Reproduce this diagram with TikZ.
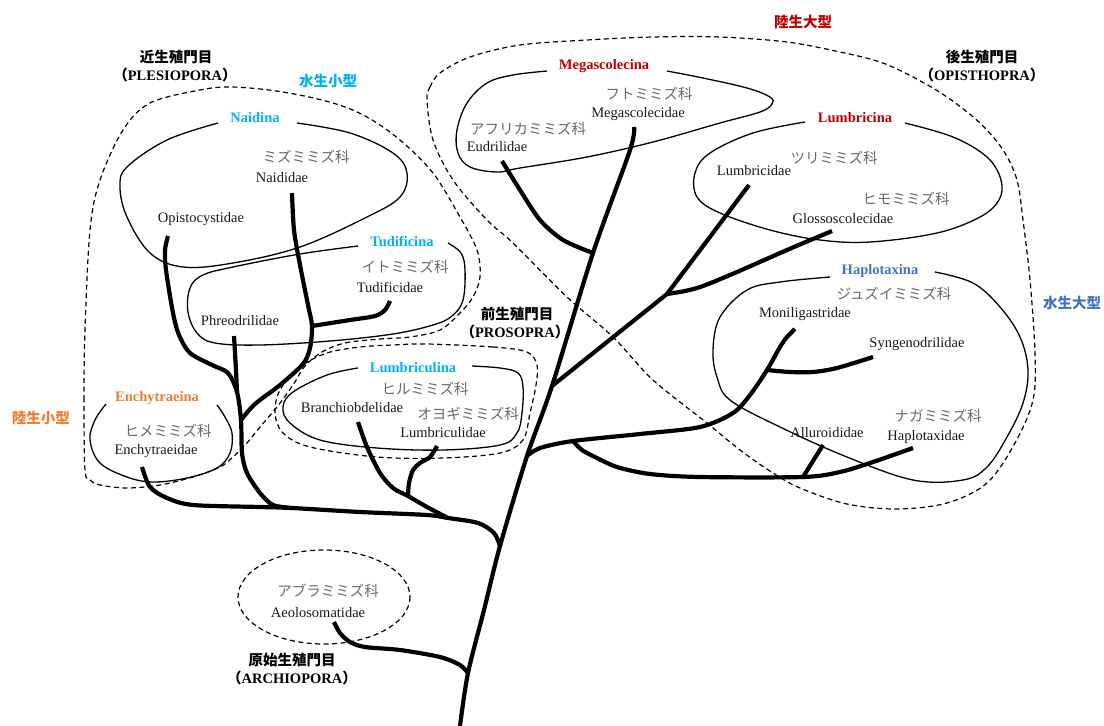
\documentclass[tikz,border=0pt]{standalone}
\usepackage{fontspec}
\setmainfont{Liberation Serif}
\newfontfamily\cjk{Noto Sans CJK JP}
\definecolor{cyanL}{RGB}{0,176,240}
\definecolor{redL}{RGB}{192,0,0}
\definecolor{blueL}{RGB}{68,114,196}
\definecolor{orangeL}{RGB}{237,125,49}
\definecolor{jpgray}{RGB}{105,105,105}
\definecolor{latin}{RGB}{25,25,25}
\newcommand{\fsz}{\fontsize{14.5}{17}\selectfont}
\newcommand{\lp}{{\cjk\bfseries （}}
\newcommand{\rp}{{\cjk\bfseries ）}}
\begin{document}
\begin{tikzpicture}[x=1pt,y=-1pt,
  fam/.style={font=\fsz, text=latin, inner sep=0pt},
  jp/.style={font={\cjk\fsz}, text=jpgray, inner sep=0pt},
  head/.style={font={\cjk\bfseries\fsz}, inner sep=0pt},
  headlat/.style={font={\bfseries\fsz}, inner sep=0pt},
  clade/.style={font={\bfseries\fsz}, inner sep=0pt},
  branch/.style={line width=4.2pt, line join=round},
  outline/.style={line width=1.3pt},
  bound/.style={line width=1.2pt, dash pattern=on 5pt off 3.5pt},
]
\useasboundingbox (0,0) rectangle (1104,726);

% ---------- dashed boundaries ----------
\draw[bound] plot[smooth cycle, tension=0.55] coordinates {
 (85,470) (84,400) (85,330) (90,230) (100,180) (123,130) (150,103) (200,90)
 (233,87) (283,92) (333,103) (367,117) (400,140) (433,173) (460,217) (477,250)
 (480,277) (473,297) (460,313) (440,330) (410,337) (380,339) (345,343) (322,352)
 (305,366) (293,385) (277,407) (260,427) (247,443) (233,457) (220,467) (193,477)
 (160,485) (127,488) (100,485) (90,480)};
\draw[bound] plot[smooth cycle, tension=0.55] coordinates {
 (427,344) (493,347) (527,352) (537,365) (536,385) (530,413) (523,440) (500,453)
 (443,458) (377,457) (310,447) (283,433) (275,413) (280,390) (300,367) (327,353)
 (360,347) (393,345)};
\draw[bound] plot[smooth cycle, tension=0.55] coordinates {
 (427,100) (430,87) (440,73) (470,57) (520,45) (587,40) (653,37) (720,37)
 (787,42) (840,52) (880,62) (913,77) (947,97) (980,123) (1003,150) (1017,180)
 (1023,220) (1030,280) (1035,353) (1033,400) (1015,443) (987,483) (947,503)
 (897,509) (847,504) (800,488) (773,473) (740,450) (707,423) (653,380)
 (613,337) (567,297) (513,243) (487,220) (453,180) (433,140)};
\draw[bound] (324,597) ellipse [x radius=86, y radius=47];

% ---------- thin outlines ----------
\draw[outline] plot[smooth, tension=0.6] coordinates {
 (297,123) (350,133) (393,153) (407,173) (400,197) (367,217) (300,247) (233,263)
 (183,267) (150,253) (127,217) (120,187) (127,167) (167,140) (218,123)};
\draw[outline] plot[smooth, tension=0.6] coordinates {
 (448,243) (461,253) (465,270) (463,300) (452,316) (433,325) (393,334) (330,341)
 (260,345) (215,343) (197,333) (188,312) (190,288) (203,275) (233,267) (300,254) (358,246)};
\draw[outline] plot[smooth, tension=0.6] coordinates {
 (472,366) (500,368) (518,373) (523,387) (522,413) (517,433) (500,445) (443,450)
 (377,448) (320,440) (290,423) (283,407) (293,392) (327,375) (358,368)};
\draw[outline] plot[smooth, tension=0.6] coordinates {
 (106,404) (95,420) (90,440) (100,463) (127,477) (153,482) (187,478) (217,468)
 (230,453) (232,433) (225,417) (217,405)};
\draw[outline] plot[smooth, tension=0.6] coordinates {
 (667,71) (703,78) (747,88) (770,97) (772,104) (760,112) (720,123) (653,142)
 (587,157) (520,168) (497,172) (470,167) (458,153) (457,130) (467,103) (487,83)
 (513,75) (547,71)};
\draw[outline] plot[smooth, tension=0.6] coordinates {
 (905,123) (953,137) (987,157) (1001,180) (999,200) (980,217) (937,233) (870,242)
 (820,240) (770,230) (720,213) (697,197) (695,173) (710,153) (753,133) (805,122)};
\draw[outline] plot[smooth, tension=0.6] coordinates {
 (935,272) (973,283) (1000,307) (1020,337) (1028,370) (1023,403) (1007,437)
 (987,467) (963,480) (913,480) (847,457) (780,427) (730,400) (717,377) (713,350)
 (720,317) (747,290) (780,282) (830,277)};

% ---------- tree coordinates ----------
\coordinate (root) at (460,726);
\coordinate (jA) at (468,673);
\coordinate (jL) at (500,546);
\coordinate (jH) at (527,456);
\coordinate (jLu) at (552,386);
\coordinate (jE) at (593,253);
\coordinate (tMeg) at (634,127);
\coordinate (tAe) at (334,622);
\coordinate (tEnch) at (142,467);
\coordinate (jP) at (292,508);
\coordinate (jBL) at (448,518);
\coordinate (tOp) at (168,236);
\coordinate (jPh) at (237,392);
\coordinate (tPh) at (234,336);
\coordinate (tNa) at (292,193);
\coordinate (jN) at (241,420);
\coordinate (jT) at (312,326);
\coordinate (tTu) at (390,301);
\coordinate (tBr) at (358,422);
\coordinate (tLb) at (437,446);
\coordinate (jLb) at (408,496);
\coordinate (tEu) at (502,161);
\coordinate (jG) at (667,294);
\coordinate (tLu) at (749,185);
\coordinate (tGl) at (832,231);
\coordinate (jHx) at (573,441);
\coordinate (jS) at (767,370);
\coordinate (tMo) at (795,329);
\coordinate (tSy) at (873,357);
\coordinate (jAl) at (803,477);
\coordinate (tAl) at (823,445);
\coordinate (tHa) at (913,448);

% ---------- branches ----------
\draw[branch] plot[smooth, tension=0.5] coordinates {
 (root) (jA) (484,610) (jL) (jH) (jLu) (jE) (630,150) (tMeg)};
\draw[branch] plot[smooth, tension=0.5] coordinates {
 (tAe) (340,633) (350,642) (365,647) (400,650) (440,657) (460,665) (jA)};
\draw[branch] plot[smooth, tension=0.5] coordinates {
 (tEnch) (150,487) (167,498) (193,505) (260,507) (jP) (360,512) (427,515)
 (jBL) (478,523) (494,533) (jL)};
\draw[branch] plot[smooth, tension=0.5] coordinates {
 (tOp) (165,250) (166,270) (173,313) (179,335) (190,353) (212,365) (228,373)
 (jPh) (jN) (242,453) (247,473) (260,493) (273,505) (jP)};
\draw[branch] (tPh) -- (236,370) -- (jPh);
\draw[branch] plot[smooth, tension=0.5] coordinates {
 (tNa) (294,230) (300,265) (308,305) (jT) (310,348) (303,364) (280,385) (255,404) (jN)};
\draw[branch] plot[smooth, tension=0.5] coordinates {
 (tTu) (385,310) (375,316) (350,320) (jT)};
\draw[branch] plot[smooth, tension=0.5] coordinates {
 (tBr) (367,447) (380,473) (393,488) (jLb) (427,507) (jBL)};
\draw[branch] plot[smooth, tension=0.5] coordinates {
 (tLb) (430,457) (420,463) (413,470) (409,483) (jLb)};
\draw[branch] plot[smooth, tension=0.5] coordinates {
 (tEu) (520,190) (540,220) (563,240) (jE)};
\draw[branch] (jLu) -- (jG) -- (tLu);
\draw[branch] plot[smooth, tension=0.5] coordinates {
 (jG) (685,291) (703,286) (737,272) (787,250) (tGl)};
\draw[branch] plot[smooth, tension=0.5] coordinates {
 (jH) (540,448) (jHx) (640,434) (700,427) (733,413) (750,395) (jS) (780,347) (787,337) (tMo)};
\draw[branch] plot[smooth, tension=0.5] coordinates {
 (jS) (790,372) (813,372) (837,368) (tSy)};
\draw[branch] plot[smooth, tension=0.5] coordinates {
 (jHx) (582,450) (595,457) (617,467) (650,474) (700,477) (jAl) (840,472) (873,462) (tHa)};
\draw[branch] (tAl) -- (jAl);

% ---------- group labels ----------
\node[head, text=redL] (lgL) at (803,22) {陸生大型};
\node[head, text=cyanL] (lgS) at (328,81) {水生小型};
\node[head, text=blueL] (aqL) at (1072,303) {水生大型};
\node[head, text=orangeL] (laS) at (41,418) {陸生小型};

\node[head] (ple) at (176,57) {近生殖門目};
\node[headlat] (pleL) at (175,75) {\lp PLESIOPORA\rp};
\node[head] (opi) at (982,57) {後生殖門目};
\node[headlat] (opiL) at (982,75) {\lp OPISTHOPRA\rp};
\node[head] (pro) at (517,314) {前生殖門目};
\node[headlat] (proL) at (515,332) {\lp PROSOPRA\rp};
\node[head] (arc) at (292,660) {原始生殖門目};
\node[headlat] (arcL) at (292,678) {\lp ARCHIOPORA\rp};

% ---------- clade labels ----------
\node[clade, text=cyanL] (naidina) at (255,118) {Naidina};
\node[clade, text=cyanL] (tudif) at (402,241) {Tudificina};
\node[clade, text=cyanL] (lumbc) at (413,368) {Lumbriculina};
\node[clade, text=orangeL] (enchy) at (157,398) {Enchytraeina};
\node[clade, text=redL] (megas) at (604,66) {Megascolecina};
\node[clade, text=redL] (lumbr) at (855,118) {Lumbricina};
\node[clade, text=blueL] (haplo) at (880,271) {Haplotaxina};

% ---------- families ----------
\node[jp] (jMeg) at (649,94) {フトミミズ科};
\node[fam] (nMeg) at (638,114) {Megascolecidae};
\node[jp] (jEu) at (528,129) {アフリカミミズ科};
\node[fam] (nEu) at (497,147) {Eudrilidae};
\node[jp] (jNa) at (306,157) {ミズミミズ科};
\node[fam] (nNa) at (282,178) {Naididae};
\node[fam] (nOp) at (201,219) {Opistocystidae};
\node[jp] (jTu) at (405,267) {イトミミズ科};
\node[fam] (nTu) at (390,287) {Tudificidae};
\node[fam] (nPh) at (240,321) {Phreodrilidae};
\node[jp] (jLu) at (834,158) {ツリミミズ科};
\node[fam] (nLu) at (754,171) {Lumbricidae};
\node[jp] (jGl) at (906,199) {ヒモミミズ科};
\node[fam] (nGl) at (843,219) {Glossoscolecidae};
\node[jp] (jMo) at (894,294) {ジュズイミミズ科};
\node[fam] (nMo) at (805,314) {Moniligastridae};
\node[fam] (nSy) at (917,344) {Syngenodrilidae};
\node[jp] (jHa) at (938,416) {ナガミミズ科};
\node[fam] (nAl) at (827,433) {Alluroididae};
\node[fam] (nHa) at (926,437) {Haplotaxidae};
\node[jp] (jBr) at (425,389) {ヒルミミズ科};
\node[fam] (nBr) at (352,408) {Branchiobdelidae};
\node[jp] (jLb) at (468,414) {オヨギミミズ科};
\node[fam] (nLb) at (443,433) {Lumbriculidae};
\node[jp] (jEn) at (168,431) {ヒメミミズ科};
\node[fam] (nEn) at (156,451) {Enchytraeidae};
\node[jp] (jAe) at (328,591) {アブラミミズ科};
\node[fam] (nAe) at (318,613) {Aeolosomatidae};
\end{tikzpicture}
\end{document}
